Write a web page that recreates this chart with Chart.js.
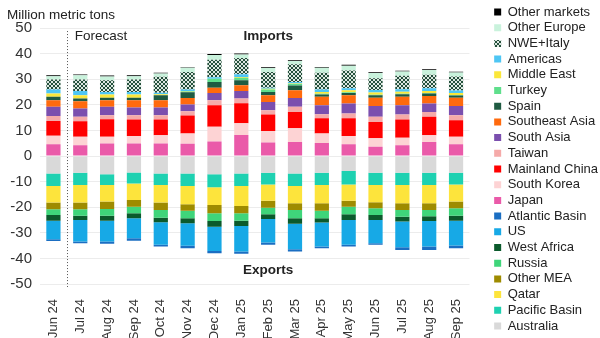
<!DOCTYPE html>
<html lang="en">
<head>
<meta charset="utf-8">
<style>
    html, body { margin: 0; padding: 0; background: #fff; }
</style>
</head>
<body>
<canvas id="LngChart" width="600" height="338"></canvas>

<script src="https://cdn.jsdelivr.net/npm/chart.js"></script>
<script>
    var months = ['Jun 24', 'Jul 24', 'Aug 24', 'Sep 24', 'Oct 24', 'Nov 24', 'Dec 24', 'Jan 25',
                  'Feb 25', 'Mar 25', 'Apr 25', 'May 25', 'Jun 25', 'Jul 25', 'Aug 25', 'Sep 25'];
    var yTicks = [-50, -40, -30, -20, -10, 0, 10, 20, 30, 40, 50];

    // Imports by destination (million metric tons)
    var japan        = [4.6, 4.2, 4.9, 4.9, 4.9, 4.8, 5.7, 8.2, 5.3, 5.5, 5.1, 4.6, 3.6, 4.2, 5.5, 4.6];
    var southKorea   = [3.3, 3.3, 2.6, 2.9, 3.2, 4.0, 5.7, 4.6, 4.5, 5.3, 3.7, 3.2, 3.3, 2.9, 2.6, 2.9];
    var china        = [5.8, 6.1, 6.9, 6.5, 6.2, 7.0, 8.4, 7.8, 6.4, 6.4, 5.9, 6.9, 6.4, 7.2, 7.2, 6.5];
    var taiwan       = [1.9, 1.7, 1.5, 1.6, 1.6, 1.7, 2.0, 1.9, 1.7, 2.0, 1.6, 1.9, 2.0, 1.9, 1.9, 1.9];
    var southAsia    = [3.6, 3.3, 3.3, 3.0, 3.0, 2.6, 2.8, 2.9, 3.2, 3.5, 3.5, 3.9, 4.2, 3.6, 3.3, 3.6];
    var seAsia       = [2.6, 2.8, 2.6, 2.9, 2.9, 2.6, 2.1, 2.2, 2.6, 3.0, 3.3, 3.2, 3.3, 3.3, 2.9, 3.3];
    var spain        = [1.3, 1.1, 1.0, 1.0, 1.9, 2.2, 2.2, 2.0, 1.3, 1.8, 0.9, 0.9, 0.9, 1.0, 1.0, 0.8];
    var turkey       = [0.0, 0.0, 0.0, 0.0, 0.0, 0.3, 1.3, 1.0, 1.0, 0.6, 0.3, 0.3, 0.2, 0.2, 0.2, 0.2];
    var middleEast   = [1.3, 1.2, 1.2, 1.2, 0.4, 0.2, 0.0, 0.3, 0.3, 0.2, 0.7, 0.8, 0.9, 0.8, 0.8, 0.8];
    var americas     = [1.6, 1.7, 1.0, 1.0, 0.6, 0.6, 0.6, 1.0, 0.4, 0.6, 1.0, 0.8, 1.0, 1.0, 1.1, 1.0];
    var nweItaly     = [3.9, 4.5, 4.6, 4.9, 6.3, 6.8, 6.8, 6.4, 6.1, 6.9, 6.5, 6.9, 4.6, 5.2, 5.2, 5.5];
    var otherEurope  = [1.3, 1.6, 1.5, 1.3, 1.2, 1.7, 1.9, 1.3, 1.6, 1.3, 2.0, 1.9, 2.0, 1.7, 1.9, 1.5];
    var otherMarkets = [0.3, 0.3, 0.3, 0.3, 0.3, 0.2, 0.3, 0.4, 0.3, 0.3, 0.3, 0.3, 0.3, 0.3, 0.3, 0.3];

    // Exports by source (negative side of the stack)
    var australia    = [-6.8, -6.5, -7.1, -6.4, -6.8, -6.8, -7.1, -6.8, -6.5, -6.8, -6.5, -5.9, -6.5, -6.5, -6.5, -6.5];
    var pacificBasin = [-4.9, -4.8, -4.2, -4.3, -4.5, -4.9, -5.1, -4.9, -4.6, -4.9, -4.8, -5.2, -4.8, -4.8, -4.8, -4.6];
    var qatar        = [-6.5, -6.9, -6.5, -6.5, -6.9, -7.1, -6.9, -7.8, -6.4, -6.8, -7.2, -6.4, -6.8, -7.2, -7.2, -6.7];
    var otherMEA     = [-2.6, -2.6, -2.9, -2.6, -2.9, -2.6, -3.3, -2.9, -2.7, -2.6, -2.9, -2.3, -2.3, -2.6, -2.6, -2.6];
    var russia       = [-2.2, -2.5, -2.6, -2.6, -3.0, -2.9, -3.0, -2.9, -2.6, -3.2, -2.9, -3.0, -2.6, -2.6, -2.4, -2.9];
    var westAfrica   = [-2.3, -1.7, -2.0, -1.9, -1.8, -2.0, -2.2, -2.0, -1.8, -2.2, -1.7, -2.2, -2.0, -1.9, -1.9, -2.0];
    var us           = [-7.2, -8.4, -8.1, -7.8, -8.8, -8.8, -9.5, -10.0, -9.2, -9.9, -9.4, -9.7, -9.1, -10.0, -10.0, -9.7];
    var atlantic     = [-0.7, -0.7, -0.9, -1.0, -0.7, -0.9, -0.9, -0.9, -0.9, -0.9, -0.6, -0.7, -0.6, -1.1, -1.3, -1.0];

    var FONT = '"Liberation Sans", Arial, sans-serif';
    var LEGEND_GAP = 14;    // extra room reserved left of the legend
    var LEGEND_SHIFT = 22;  // how far the legend items are pushed right

    // Cross-hatch fill used for NWE+Italy
    function hatchPattern() {
        var c = document.createElement('canvas');
        c.width = 4; c.height = 4;
        var g = c.getContext('2d');
        g.fillStyle = '#dde8e1';
        g.fillRect(0, 0, 4, 4);
        g.fillStyle = '#24503c';
        for (var i = 0; i < 4; i++) {
            g.fillRect(i, i, 1, 1);
            g.fillRect(3 - i, i, 1, 1);
        }
        return g.createPattern(c, 'repeat');
    }

    function series(label, data, color) {
        return { label: label, data: data, backgroundColor: color, borderWidth: 0, stack: 'lng' };
    }

    // Stack order bottom-up; the legend lists them reversed
    var datasets = [
        series('Australia', australia, '#d9d9d9'),
        series('Pacific Basin', pacificBasin, '#1ed1b1'),
        series('Qatar', qatar, '#fde43c'),
        series('Other MEA', otherMEA, '#9e8b00'),
        series('Russia', russia, '#3fd57a'),
        series('West Africa', westAfrica, '#0b5a2c'),
        series('US', us, '#17a9e6'),
        series('Atlantic Basin', atlantic, '#1b6ec2'),
        series('Japan', japan, '#ea5aa9'),
        series('South Korea', southKorea, '#fdd3d4'),
        series('Mainland China', china, '#ff0000'),
        series('Taiwan', taiwan, '#f5aaa9'),
        series('South Asia', southAsia, '#7b4fae'),
        series('Southeast Asia', seAsia, '#ff6a0d'),
        series('Spain', spain, '#1f5b42'),
        series('Turkey', turkey, '#5fdf8c'),
        series('Middle East', middleEast, '#fbe73a'),
        series('Americas', americas, '#4ec6f4'),
        series('NWE+Italy', nweItaly, hatchPattern()),
        series('Other Europe', otherEurope, '#c9f2dc'),
        series('Other markets', otherMarkets, '#000000')
    ];

    // Widen the legend box so there is a gap between plot and legend
    var legendGap = {
        id: 'legendGap',
        afterInit: function (chart) {
            var lg = chart.legend;
            var fit = lg.fit, draw = lg.draw;
            lg.fit = function () {
                fit.call(this);
                this.width += LEGEND_GAP;
            };
            lg.draw = function () {
                this.ctx.save();
                this.ctx.translate(LEGEND_SHIFT, 0);
                draw.call(this);
                this.ctx.restore();
            };
        }
    };

    // Text labels and the forecast divider
    var notes = {
        id: 'notes',
        afterDraw: function (chart) {
            var ctx = chart.ctx, x = chart.scales.x, y = chart.scales.y;
            ctx.save();
            var xf = (x.getPixelForValue(0) + x.getPixelForValue(1)) / 2;
            ctx.strokeStyle = '#555';
            ctx.lineWidth = 1;
            ctx.setLineDash([1, 2]);
            ctx.beginPath();
            ctx.moveTo(Math.round(xf) + 0.5, y.getPixelForValue(48.8));
            ctx.lineTo(Math.round(xf) + 0.5, y.bottom + 3);
            ctx.stroke();
            ctx.setLineDash([]);

            ctx.fillStyle = '#222';
            ctx.textBaseline = 'middle';
            ctx.font = '13.5px ' + FONT;
            ctx.textAlign = 'left';
            ctx.fillText('Forecast', xf + 8, y.getPixelForValue(46.8));
            ctx.fillText('Million metric tons', 7, 15);

            ctx.font = 'bold 13.5px ' + FONT;
            ctx.textAlign = 'center';
            ctx.fillText('Imports', x.getPixelForValue(8), y.getPixelForValue(46.8));
            ctx.fillText('Exports', x.getPixelForValue(8), y.getPixelForValue(-44.6));
            ctx.restore();
        }
    };

    var ctx = document.getElementById('LngChart').getContext('2d');
    var lngChart = new Chart(ctx, {
        type: 'bar',
        data: { labels: months, datasets: datasets },
        options: {
            responsive: false,
            animation: false,
            devicePixelRatio: 1,
            categoryPercentage: 1.0,
            barPercentage: 0.53,
            layout: { padding: 0 },
            plugins: {
                tooltip: { enabled: false },
                legend: {
                    position: 'right',
                    reverse: true,
                    labels: {
                        boxWidth: 7,
                        boxHeight: 7,
                        padding: 2.7,
                        color: '#222',
                        font: { family: FONT, size: 13 }
                    }
                }
            },
            scales: {
                x: {
                    stacked: true,
                    grid: { display: false },
                    border: { display: false },
                    ticks: {
                        minRotation: 90,
                        maxRotation: 90,
                        padding: 7,
                        color: '#333',
                        font: { family: FONT, size: 13 }
                    },
                    afterFit: function (s) { s.height = 54; }
                },
                y: {
                    stacked: true,
                    min: -50,
                    max: 50,
                    afterBuildTicks: function (s) { s.ticks = yTicks.map(function (v) { return { value: v }; }); },
                    grid: { color: '#ececec', drawTicks: false },
                    border: { display: false },
                    ticks: {
                        padding: 8,
                        color: '#333',
                        font: { family: FONT, size: 15 }
                    },
                    afterFit: function (s) { s.width = 40; }
                },
                // spacer above the plot for the unit label
                topGap: {
                    axis: 'x', type: 'linear', position: 'top',
                    grid: { display: false }, border: { display: false }, ticks: { display: false },
                    afterFit: function (s) { s.height = 28; }
                }
            }
        },
        plugins: [legendGap, notes]
    });
</script>
</body>
</html>
